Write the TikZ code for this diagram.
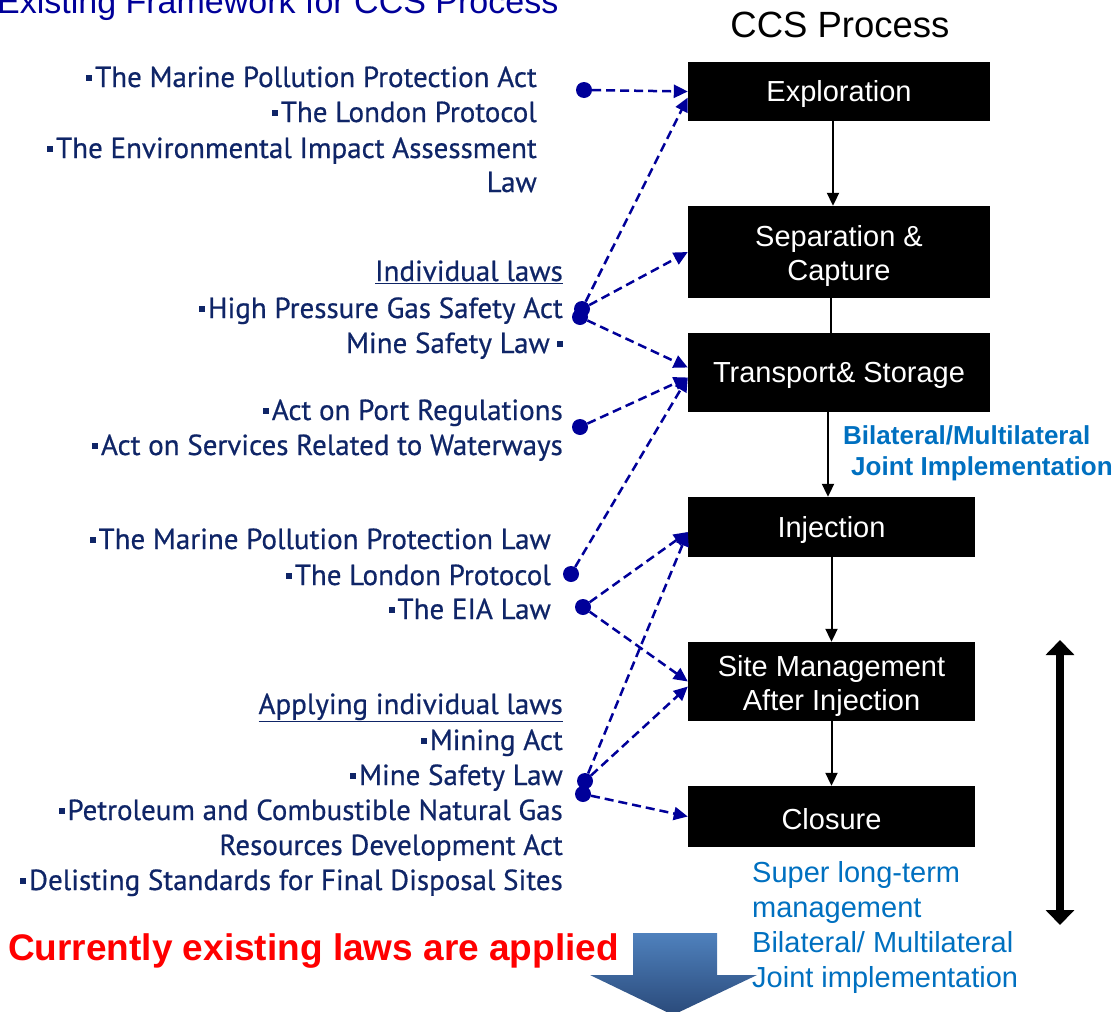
\documentclass[tikz,border=0pt]{standalone}
\usepackage{fontspec}
\setmainfont{Liberation Sans}
\newfontfamily\lawfont[FakeBold=0.6]{PT Sans}
\usetikzlibrary{arrows.meta,calc}
\definecolor{navytext}{HTML}{0F2567}
\definecolor{dotblue}{HTML}{000099}
\definecolor{titleblue}{HTML}{000099}
\definecolor{noteblue}{HTML}{0070C0}
\definecolor{bluetop}{HTML}{4F81BD}
\definecolor{bluebot}{HTML}{2A4A7A}
\newcommand\sqb{\rule[0.2em]{0.2em}{0.2em}\hspace{0.1em}}
\begin{document}
\begin{tikzpicture}[x=1pt,y=-1pt,
  procbox/.style={fill=black, inner sep=0pt},
  boxtext/.style={text=white, font=\fontsize{29}{34}\selectfont, align=center, inner sep=0pt},
  lawtext/.style={anchor=base east, inner sep=0pt, text=navytext, font=\lawfont\fontsize{29}{35}\selectfont},
  dot/.style={circle, fill=dotblue, inner sep=0pt, minimum size=16pt},
  link/.style={draw=dotblue, line width=2.5pt, dash pattern=on 9pt off 5pt, -{Triangle[length=14pt,width=13pt]}},
  flow/.style={draw=black, line width=2pt, -{Triangle[length=13pt,width=12pt]}},
  flowline/.style={draw=black, line width=2pt},
  note/.style={anchor=base west, inner sep=0pt, text=noteblue},
]
\useasboundingbox (0,0) rectangle (1117,1012);

% titles
\node[anchor=base west, inner sep=0pt, text=titleblue, font=\fontsize{34}{36}\selectfont] (title) at (-3,13) {Existing Framework for CCS Process};
\node[anchor=base, inner sep=0pt, font=\fontsize{36.5}{38}\selectfont] (ccs) at (840,37) {CCS Process};

% process boxes
\node[procbox, minimum width=302pt, minimum height=59pt] (ex) at (839,91.5) {};
\node[procbox, minimum width=302pt, minimum height=92pt] (sc) at (839,252) {};
\node[procbox, minimum width=302pt, minimum height=79pt] (ts) at (839,372.5) {};
\node[procbox, minimum width=287pt, minimum height=60pt] (inj) at (831.5,527) {};
\node[procbox, minimum width=287pt, minimum height=79pt] (site) at (831.5,681.5) {};
\node[procbox, minimum width=287pt, minimum height=61pt] (clo) at (831.5,816.5) {};

% process flow
\draw[flow] ([xshift=-6pt]ex.south) -- ([xshift=-6pt]sc.north);
\draw[flowline] ([xshift=-8pt]sc.south) -- ([xshift=-8pt,yshift=14pt]sc.south);
\draw[flowline] ([xshift=-8pt]sc.south) -- ([xshift=-8pt]ts.north);
\draw[flow] ([xshift=-11pt]ts.south) -- ([xshift=-3.5pt]inj.north);
\draw[flow] (inj.south) -- (site.north);
\draw[flow] (site.south) -- (clo.north);

% box texts
\node[boxtext] (ext) at ([yshift=-3pt]ex.center) {Exploration};
\node[boxtext] (sct) at ([yshift=-4pt]sc.center) {Separation \&\\Capture};
\node[boxtext] (tst) at ([yshift=-3pt]ts.center) {Transport\& Storage};
\node[boxtext] (injt) at ([yshift=-3pt]inj.center) {Injection};
\node[boxtext] (sitet) at ([yshift=-4pt]site.center) {Site Management\\After Injection};
\node[boxtext] (clot) at ([yshift=-3pt]clo.center) {Closure};

% notes
\node[note, font=\bfseries\fontsize{26}{30}\selectfont] (bm1) at (843,444) {Bilateral/Multilateral};
\node[note, font=\bfseries\fontsize{26}{30}\selectfont] (bm2) at (851,475) {Joint Implementation};
\node[note, font=\fontsize{29}{35}\selectfont] (sl1) at (752,882) {Super long-term};
\node[note, font=\fontsize{29}{35}\selectfont] (sl2) at (752,917) {management};
\node[note, font=\fontsize{29}{35}\selectfont] (sl3) at (752,952) {Bilateral/ Multilateral};
\node[note, font=\fontsize{29}{35}\selectfont] (sl4) at (752,987) {Joint implementation};

% long double arrow
\coordinate (ta) at (1060,640);
\coordinate (tb) at (1060,925);
\draw[line width=8pt, {Triangle[length=15pt,width=28pt]}-{Triangle[length=15pt,width=28pt]}] (ta) -- (tb);

% left law texts
\node[lawtext] (a1) at (537,87) {\sqb The Marine Pollution Protection Act};
\node[lawtext] (a2) at (537,122) {\sqb The London Protocol};
\node[lawtext] (a3) at (537,158) {\sqb The Environmental Impact Assessment};
\node[lawtext] (a4) at (537,192) {Law};

\node[lawtext] (b1) at (563,281) {\underline{Individual laws}};
\node[lawtext] (b2) at (563,318) {\sqb High Pressure Gas Safety Act};
\node[lawtext] (b3) at (563,353) {Mine Safety Law\hspace{0.25em}\sqb};

\node[lawtext] (c1) at (563,420) {\sqb Act on Port Regulations};
\node[lawtext] (c2) at (563,455) {\sqb Act on Services Related to Waterways};

\node[lawtext] (e1) at (551,549) {\sqb The Marine Pollution Protection Law};
\node[lawtext] (e2) at (551,585) {\sqb The London Protocol};
\node[lawtext] (e3) at (551,619) {\sqb The EIA Law};

\node[lawtext] (f1) at (563,714) {\underline{Applying individual laws}};
\node[lawtext] (f2) at (563,750) {\sqb Mining Act};
\node[lawtext] (f3) at (563,785) {\sqb Mine Safety Law};
\node[lawtext] (f4) at (563,820) {\sqb Petroleum and Combustible Natural Gas};
\node[lawtext] (f5) at (563,855) {Resources Development Act};
\node[lawtext] (f6) at (563,890) {\sqb Delisting Standards for Final Disposal Sites};

% dots
\node[dot] (d1) at (584,90) {};
\node[dot] (d2a) at (582,309) {};
\node[dot] (d2b) at (580,317) {};
\node[dot] (d3) at (580,427) {};
\node[dot] (d4) at (571,574) {};
\node[dot] (d5) at (583,607) {};
\node[dot] (d6a) at (585,781) {};
\node[dot] (d6b) at (583,794) {};

% links
\draw[link] (d1) -- (ex.west);
\draw[link] (d2a) -- ([yshift=-6pt]ex.west);
\draw[link] (d2a) -- (sc.west);
\draw[link] (d2b) -- ([yshift=5pt]ts.west);
\draw[link] (d3) -- ([yshift=-5pt]ts.west);
\draw[link] (d4) -- ([yshift=-5pt]ts.west);
\draw[link] (d5) -- ([yshift=-5pt]inj.west);
\draw[link] (d5) -- (site.west);
\draw[link] (d6a) -- ([yshift=-5pt]inj.west);
\draw[link] (d6a) -- ([yshift=-5pt]site.west);
\draw[link] (d6b) -- (clo.west);

% conclusion
\node[anchor=base west, inner sep=0pt, text=red, font=\bfseries\fontsize{37}{40}\selectfont] (cur) at (8,960) {Currently existing laws are applied};
\shade[top color=bluetop, bottom color=bluebot] (633,933) -- (717,933) -- (717,975) -- (757,975) -- (673,1015) -- (590,975) -- (633,975) -- cycle;
\end{tikzpicture}
\end{document}
